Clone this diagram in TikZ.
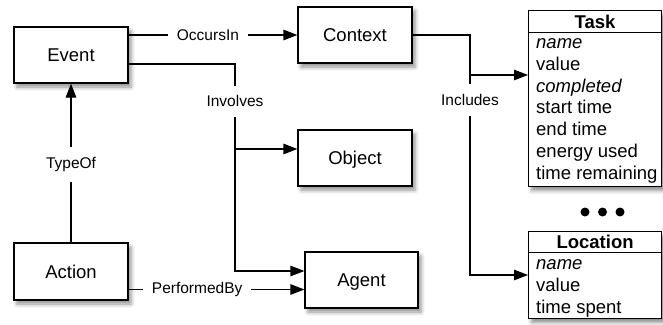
\documentclass[tikz,border=0pt]{standalone}
\usepackage{fontspec}
\setmainfont{Liberation Sans}
\usetikzlibrary{arrows.meta,shadows.blur}
\begin{document}
\begin{tikzpicture}[x=1pt,y=-1pt,
  shad/.style={blur shadow={shadow xshift=3pt, shadow yshift=-4pt, shadow blur radius=4pt, shadow opacity=45}},
  box/.style={draw, line width=1.2pt, fill=white, minimum width=114pt, minimum height=56pt, inner sep=0pt,
    font=\fontsize{18.5}{22}\selectfont, text height=13.2pt, text depth=0pt, shad},
  conn/.style={line width=1.2pt},
  arr/.style={conn, -{Triangle[length=14pt,width=10.5pt]}},
  hlbl/.style={fill=white, font=\fontsize{15.5}{18}\selectfont, inner xsep=9pt, inner ysep=2pt},
  vlbl/.style={fill=white, font=\fontsize{15.5}{18}\selectfont, inner xsep=2pt, inner ysep=10pt},
  tbl/.style={draw, line width=1.2pt, fill=white, minimum width=133pt, inner sep=0pt, anchor=north west, shad},
  thead/.style={tbl, font=\fontsize{18.5}{22}\selectfont\bfseries, text height=13.2pt, text depth=0pt},
  row/.style={anchor=base west, inner sep=0pt, font=\fontsize{18.5}{22}\selectfont},
]
\useasboundingbox (0,0) rectangle (663,324);

% boxes
\node[box] (event)   at (71,55)    {Event};
\node[box, minimum height=57pt] (action) at (71,271.5) {Action};
\node[box] (context) at (355,35)   {Context};
\node[box] (object)  at (355,158)  {Object};
\node[box, minimum width=113pt] (agent) at (361.5,280) {Agent};

% Task table
\node[thead, minimum height=22pt] (task) at (528,10) {Task};
\node[tbl, minimum height=154pt] (taskbody) at (528,32) {};
\node[row] (t1) at (536,48.5)  {\itshape name};
\node[row] (t2) at (536,70.3)  {value};
\node[row] (t3) at (536,92.1)  {\itshape completed};
\node[row] (t4) at (536,113.9) {start time};
\node[row] (t5) at (536,135.7) {end time};
\node[row] (t6) at (536,157.5) {energy used};
\node[row] (t7) at (536,179.3) {time remaining};

% dots
\foreach \x in {585,602.5,620} \fill (\x,212) circle (4.5pt);

% Location table
\node[thead, minimum height=21pt] (loc) at (528,231) {Location};
\node[tbl, minimum height=66pt] (locbody) at (528,252) {};
\node[row] (l1) at (536,269.5) {\itshape name};
\node[row] (l2) at (536,291.3) {value};
\node[row] (l3) at (536,313.1) {time spent};

% connectors
\draw[arr] ([yshift=20pt]event.east) -- node[hlbl,pos=0.47]{OccursIn} (context.west);

\coordinate (inv) at (235,64);
\coordinate (objin) at ([yshift=9pt]object.west);
\coordinate (agin) at ([yshift=9pt]agent.west);
\draw[arr] ([yshift=-9pt]event.east) -- (inv) -- node[vlbl,pos=0.18]{Involves} (inv |- agin) -- (agin);
\draw[arr] (inv |- objin) -- (objin);

\coordinate (agin2) at ([yshift=-9.5pt]agent.west);
\draw[arr] (action.east |- agin2) -- node[hlbl,pos=0.39]{PerformedBy} (agin2);

\draw[arr] (action.north) -- node[vlbl,pos=0.49]{TypeOf} (event.south);

\coordinate (incA) at (470,75);
\coordinate (incB) at (470,275);
\draw[arr] (context.east) -- (context.east -| incA) -- (incA) -- node[vlbl,pos=0.125]{Includes} (incB) -- (incB -| locbody.west);
\draw[arr] (incA) -- (incA -| taskbody.west);
\end{tikzpicture}
\end{document}
